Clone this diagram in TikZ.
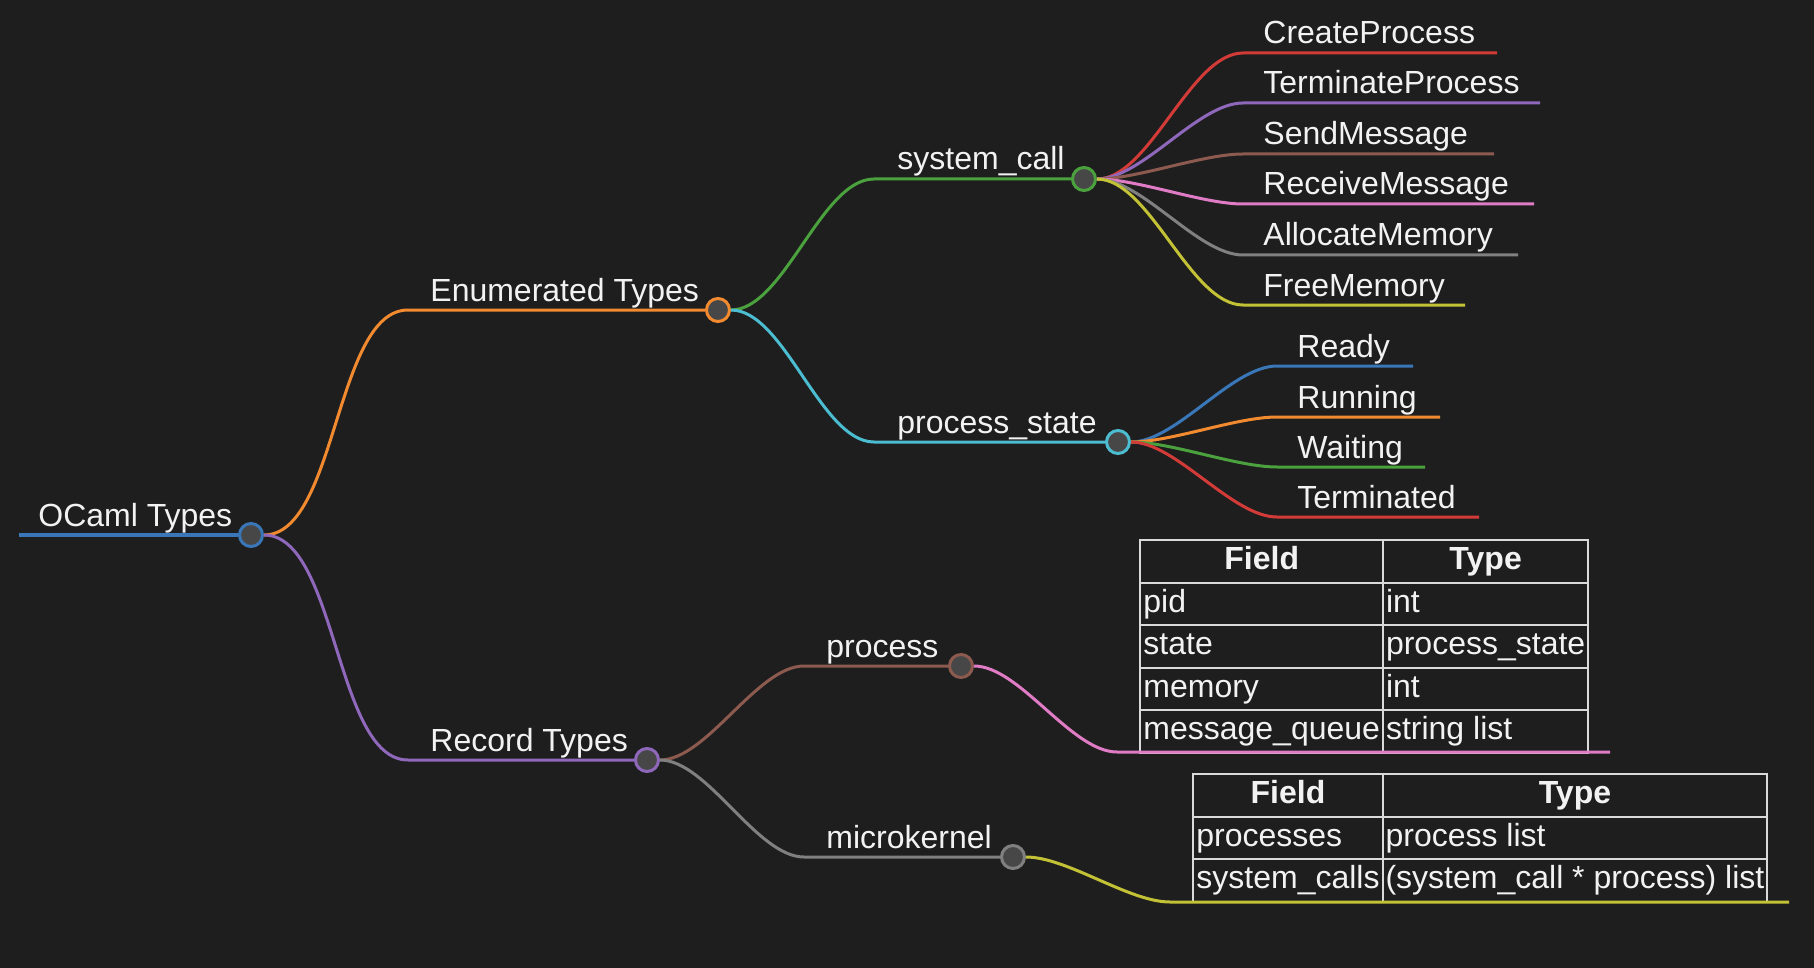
\documentclass[tikz,border=0pt]{standalone}
\usepackage{fontspec}
\setmainfont{Liberation Sans}
\usepackage{colortbl}

\definecolor{bgc}{HTML}{1E1E1E}
\definecolor{dotc}{HTML}{474747}
\definecolor{txtc}{HTML}{F2F2F2}
\definecolor{rulec}{HTML}{DADADA}
\definecolor{cblue}{HTML}{3A77B8}
\definecolor{corange}{HTML}{F28A30}
\definecolor{cgreen}{HTML}{4AA13D}
\definecolor{cred}{HTML}{D23B37}
\definecolor{cpurple}{HTML}{8F68BC}
\definecolor{cbrown}{HTML}{8C5A4E}
\definecolor{cpink}{HTML}{E07BC6}
\definecolor{cgray}{HTML}{808080}
\definecolor{colive}{HTML}{C3C236}
\definecolor{ccyan}{HTML}{4CBCD1}

\tikzset{
  dot/.style={circle,draw,fill=dotc,line width=1.5pt,minimum size=11.5pt,inner sep=0pt},
  lbl/.style={anchor=base west,inner sep=0pt,text=txtc,font=\fontsize{16}{19}\selectfont},
  br/.style={line width=1.5pt,out=0,in=180,looseness=0.7},
  tab/.style={anchor=north west,inner sep=0pt,text=txtc,font=\fontsize{16}{20.25}\selectfont},
}
\setlength{\tabcolsep}{1pt}
\setlength{\arrayrulewidth}{1pt}
\arrayrulecolor{rulec}

\begin{document}
\begin{tikzpicture}[x=0.5pt,y=-0.5pt]
\path[use as bounding box,fill=bgc] (0,0) rectangle (1814,968);

%inner nodes
\node[dot,draw=cblue] (root) at (251,535) {};
\node[dot,draw=corange] (enum) at (718,310) {};
\node[dot,draw=cpurple] (rec) at (647,760) {};
\node[dot,draw=cgreen] (sys) at (1084,179) {};
\node[dot,draw=ccyan] (pst) at (1118,442) {};
\node[dot,draw=cbrown] (proc) at (961,666) {};
\node[dot,draw=cgray] (mk) at (1013,857) {};

\coordinate (root-l) at (19,535);
\coordinate (enum-l) at (408,310);
\coordinate (rec-l) at (408,760);
\coordinate (sys-l) at (874,179);
\coordinate (pst-l) at (874,442);
\coordinate (proc-l) at (804,666);
\coordinate (mk-l) at (804,857);

\node[lbl] (root-t) at (38,526) {OCaml Types};
\node[lbl] (enum-t) at (430,301) {Enumerated Types};
\node[lbl] (rec-t) at (430,751) {Record Types};
\node[lbl] (sys-t) at (897,170) {system\_call};
\node[lbl] (pst-t) at (897,433) {process\_state};
\node[lbl] (proc-t) at (826,657) {process};
\node[lbl] (mk-t) at (826,848) {microkernel};

%leaves
\coordinate (cp-l) at (1243,53); \coordinate (cp-r) at (1497,53);
\coordinate (tp-l) at (1243,103); \coordinate (tp-r) at (1540,103);
\coordinate (sm-l) at (1243,154); \coordinate (sm-r) at (1494,154);
\coordinate (rm-l) at (1243,204); \coordinate (rm-r) at (1534,204);
\coordinate (am-l) at (1243,255); \coordinate (am-r) at (1518,255);
\coordinate (fm-l) at (1243,305); \coordinate (fm-r) at (1465,305);
\coordinate (rd-l) at (1277,366); \coordinate (rd-r) at (1413,366);
\coordinate (rn-l) at (1277,417); \coordinate (rn-r) at (1440,417);
\coordinate (wt-l) at (1277,467); \coordinate (wt-r) at (1425,467);
\coordinate (tm-l) at (1277,517); \coordinate (tm-r) at (1479,517);
\coordinate (pt-l) at (1117,752); \coordinate (pt-r) at (1610,752);
\coordinate (mt-l) at (1170,902); \coordinate (mt-r) at (1789,902);

\node[lbl] (cp) at (1263,44) {CreateProcess};
\node[lbl] (tp) at (1263,94) {TerminateProcess};
\node[lbl] (sm) at (1263,145) {SendMessage};
\node[lbl] (rm) at (1263,195) {ReceiveMessage};
\node[lbl] (am) at (1263,246) {AllocateMemory};
\node[lbl] (fm) at (1263,296) {FreeMemory};
\node[lbl] (rd) at (1297,357) {Ready};
\node[lbl] (rn) at (1297,408) {Running};
\node[lbl] (wt) at (1297,458) {Waiting};
\node[lbl] (tm) at (1297,508) {Terminated};

%tables
\node[tab] (proctab) at (1139,539) {\begin{tabular}{|l|l|}\hline
\multicolumn{1}{|c|}{\textbf{Field}} & \multicolumn{1}{c|}{\textbf{Type}}\\\hline
pid & int\\\hline
state & process\_state\\\hline
memory & int\\\hline
message\_queue & string list\\\hline
\end{tabular}};
\node[tab] (mktab) at (1192,773) {\begin{tabular}{|l|l|}\hline
\multicolumn{1}{|c|}{\textbf{Field}} & \multicolumn{1}{c|}{\textbf{Type}}\\\hline
processes & process list\\\hline
system\_calls & (system\_call * process) list\\\hline
\end{tabular}};

%branches
\draw[br,cblue,line width=2pt] (root-l) -- (root.west);
\draw[br,corange] (root.east) to (enum-l) -- (enum.west);
\draw[br,cpurple] (root.east) to (rec-l) -- (rec.west);
\draw[br,cgreen] (enum.east) to (sys-l) -- (sys.west);
\draw[br,ccyan] (enum.east) to (pst-l) -- (pst.west);
\draw[br,cbrown] (rec.east) to (proc-l) -- (proc.west);
\draw[br,cgray] (rec.east) to (mk-l) -- (mk.west);

\draw[br,cred] (sys.east) to (cp-l) -- (cp-r);
\draw[br,cpurple] (sys.east) to (tp-l) -- (tp-r);
\draw[br,cbrown] (sys.east) to (sm-l) -- (sm-r);
\draw[br,cpink] (sys.east) to (rm-l) -- (rm-r);
\draw[br,cgray] (sys.east) to (am-l) -- (am-r);
\draw[br,colive] (sys.east) to (fm-l) -- (fm-r);

\draw[br,cblue] (pst.east) to (rd-l) -- (rd-r);
\draw[br,corange] (pst.east) to (rn-l) -- (rn-r);
\draw[br,cgreen] (pst.east) to (wt-l) -- (wt-r);
\draw[br,cred] (pst.east) to (tm-l) -- (tm-r);

\draw[br,cpink] (proc.east) to (pt-l) -- (pt-r);
\draw[br,colive] (mk.east) to (mt-l) -- (mt-r);
\end{tikzpicture}
\end{document}
